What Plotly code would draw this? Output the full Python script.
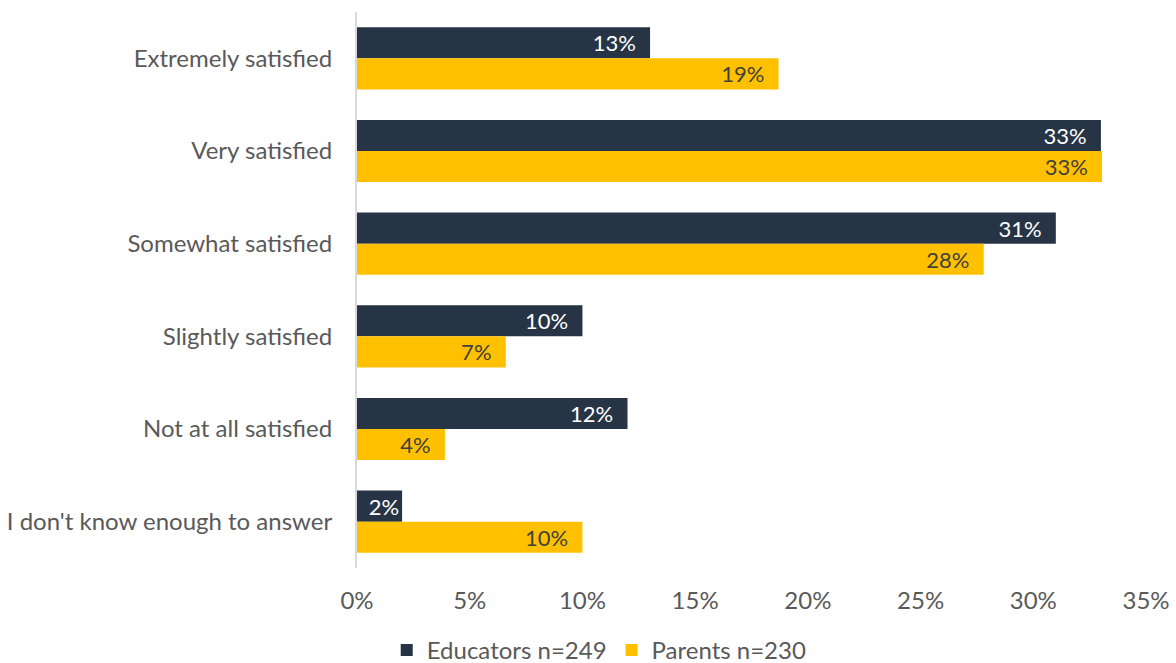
import plotly.graph_objects as go

categories = ["Extremely satisfied", "Very satisfied", "Somewhat satisfied",
              "Slightly satisfied", "Not at all satisfied", "I don't know enough to answer"]
educators = [13.0, 33.0, 31.0, 10.0, 12.0, 2.0]
parents = [18.7, 33.05, 27.8, 6.6, 3.9, 10.0]
educators_name = "Educators n=249"
parents_name = "Parents n=230"
tick_vals = [0, 5, 10, 15, 20, 25, 30, 35]
tick_text = [f"{v}%" for v in tick_vals]

FONT = "Lato"
GRAY = "#595959"
PAD = "\u00a0\u00a0"


def labels(values):
    # pad label from bar end, except where the bar is too short
    return [f"{round(v)}%" + (PAD if v >= 3 else "") for v in values]


fig = go.Figure()
fig.add_trace(go.Bar(
    y=categories, x=educators, orientation="h", name=educators_name,
    marker=dict(color="#263445", line=dict(width=0)),
    text=labels(educators), textposition="inside", insidetextanchor="end",
    textfont=dict(family=FONT, size=22, color="white"),
    constraintext="none", cliponaxis=False, hoverinfo="skip",
))
fig.add_trace(go.Bar(
    y=categories, x=parents, orientation="h", name=parents_name,
    marker=dict(color="#FFC000", line=dict(width=0)),
    text=labels(parents), textposition="inside", insidetextanchor="end",
    textfont=dict(family=FONT, size=22, color="#404040"),
    constraintext="none", cliponaxis=False, hoverinfo="skip",
))

fig.update_layout(
    width=1176, height=663,
    margin=dict(l=357, r=30, t=12, b=95, autoexpand=False),
    barmode="group", bargap=0.33, bargroupgap=0,
    plot_bgcolor="white", paper_bgcolor="white",
    font=dict(family=FONT, size=24, color=GRAY),
    xaxis=dict(range=[0, 35], tickmode="array", tickvals=tick_vals, ticktext=tick_text,
               showgrid=False, zeroline=False, showline=False, automargin=False,
               tickfont=dict(family=FONT, size=24, color=GRAY), ticks="", ticklabelstandoff=16),
    yaxis=dict(autorange="reversed", showgrid=False, zeroline=False,
               showline=True, linecolor="#d9d9d9", linewidth=2, automargin=False,
               ticks="", ticklabelstandoff=18,
               tickfont=dict(family=FONT, size=24, color=GRAY)),
    legend=dict(orientation="h", x=0.307, xanchor="center", y=-0.148, yanchor="middle",
                font=dict(family=FONT, size=24, color=GRAY),
                itemwidth=30, tracegroupgap=0),
    showlegend=True,
)

fig.write_html("out.html", config={"displayModeBar": False},
               post_script="document.body.style.margin='0px';")
